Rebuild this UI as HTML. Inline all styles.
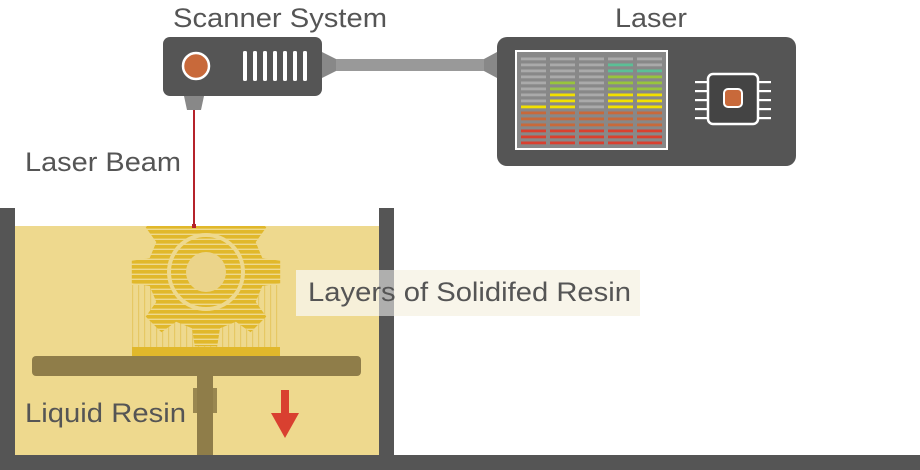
<!DOCTYPE html>
<html><head><meta charset="utf-8"><style>
html,body{margin:0;padding:0;background:#fff;width:920px;height:470px;overflow:hidden}
svg{display:block}
text{font-family:"Liberation Sans",sans-serif;fill:#555;font-size:27px}
</style></head><body>
<svg id="s" width="920" height="470" viewBox="0 0 920 470" xmlns="http://www.w3.org/2000/svg">
<defs>
<pattern id="st" width="10" height="5" patternUnits="userSpaceOnUse">
<rect width="10" height="5" fill="#eed98e"/><rect width="10" height="3.6" fill="#e1b82b"/>
</pattern>
<pattern id="vs" width="6" height="10" patternUnits="userSpaceOnUse">
<rect width="6" height="10" fill="#eed98e"/><rect width="1.2" height="10" fill="#e4c45a"/>
</pattern>
<clipPath id="cp"><rect x="0" y="226" width="920" height="300"/></clipPath>
</defs>
<rect x="15" y="226" width="364" height="229" fill="#eed98e"/>
<rect x="0" y="208" width="15" height="262" fill="#555"/>
<rect x="379" y="208" width="15" height="262" fill="#555"/>
<rect x="0" y="455" width="920" height="15" fill="#555"/>
<rect x="132" y="285" width="148" height="62" fill="url(#vs)" opacity="0.8"/>
<g id="gear" clip-path="url(#cp)"></g>
<rect x="132" y="347" width="148" height="9" fill="#e1b82b"/>
<rect x="32" y="356" width="329" height="20" rx="4" fill="#8f7d49"/>
<rect x="197" y="376" width="16" height="79" fill="#8f7d49"/>
<rect x="193" y="388" width="24" height="25" fill="#8f7d49" opacity="0.9"/>
<rect x="281" y="390" width="8" height="24" fill="#d94030"/>
<polygon points="271,413 299,413 285,438" fill="#d94030"/>
<line x1="194" y1="110" x2="194" y2="226" stroke="#b5232b" stroke-width="2"/>
<rect x="192" y="224" width="4" height="4" fill="#b5232b"/>
<polygon points="184,96 204,96 201,110 187,110" fill="#888"/>
<rect x="163" y="37" width="159" height="59" rx="7" fill="#555"/>
<circle cx="196" cy="66" r="13" fill="#c8693a" stroke="#fff" stroke-width="2.5"/>
<g fill="#fff">
<rect x="243" y="51" width="4" height="30" rx="1.5"/><rect x="253" y="51" width="4" height="30" rx="1.5"/>
<rect x="263" y="51" width="4" height="30" rx="1.5"/><rect x="273" y="51" width="4" height="30" rx="1.5"/>
<rect x="283" y="51" width="4" height="30" rx="1.5"/><rect x="293" y="51" width="4" height="30" rx="1.5"/>
<rect x="303" y="51" width="4" height="30" rx="1.5"/>
</g>
<polygon points="322,52 336,59 336,71 322,78" fill="#888"/>
<rect x="336" y="59" width="148" height="12" fill="#999"/>
<polygon points="484,59 497,52 497,78 484,71" fill="#888"/>
<rect x="497" y="37" width="299" height="129" rx="10" fill="#555"/>
<rect x="516" y="51" width="151" height="98" fill="#888" stroke="#fff" stroke-width="2"/>
<g id="bars"></g>
<g id="chip"></g>
<rect x="708" y="74" width="50" height="50" rx="5" fill="#444" stroke="#fff" stroke-width="2.5"/>
<rect x="724" y="89" width="18" height="18" rx="4" fill="#c8693a" stroke="#fff" stroke-width="2"/>
<text x="173" y="27" textLength="214" lengthAdjust="spacingAndGlyphs">Scanner System</text>
<text x="615" y="27" textLength="72" lengthAdjust="spacingAndGlyphs">Laser</text>
<text x="25" y="171" textLength="156" lengthAdjust="spacingAndGlyphs">Laser Beam</text>
<rect x="296" y="270" width="344" height="46" fill="#f7f3e6" opacity="0.85"/>
<rect x="379" y="270" width="15" height="46" fill="#aaa" opacity="0.9"/>
<text x="308" y="301" textLength="323" lengthAdjust="spacingAndGlyphs">Layers of Solidifed Resin</text>
<text x="25" y="422" textLength="161" lengthAdjust="spacingAndGlyphs">Liquid Resin</text>
</svg>
<script>
var NS="http://www.w3.org/2000/svg";
function el(t,a,p){var e=document.createElementNS(NS,t);for(var k in a)e.setAttribute(k,a[k]);document.getElementById(p).appendChild(e);return e;}
var cx=206,cy=272,R=75,r=58,n=8,pts=[];
for(var i=0;i<n;i++){var a=-Math.PI/2+i*2*Math.PI/n,w=Math.PI/n;
[[a-w*0.62,r],[a-w*0.38,R],[a+w*0.38,R],[a+w*0.62,r]].forEach(function(p){pts.push((cx+p[1]*Math.cos(p[0])).toFixed(1)+","+(cy+p[1]*Math.sin(p[0])).toFixed(1));});}
el("polygon",{points:pts.join(" "),fill:"url(#st)"},"gear");
el("circle",{cx:cx,cy:cy,r:37,fill:"none",stroke:"#eed98e","stroke-width":4},"gear");
el("circle",{cx:cx,cy:cy,r:20,fill:"#ebd48a"},"gear");
var G="#aaa",T="#5bbf96",Gr="#98c43c",Y="#f2e000",O="#c8693a",Rd="#d9402f";
var cols=[
[G,G,G,G,G,G,G,G,Y,O,O,O,Rd,Rd,Rd],
[G,G,G,G,Gr,Gr,Y,Y,Y,O,O,O,Rd,Rd,Rd],
[G,G,G,G,G,G,G,G,G,O,O,O,Rd,Rd,Rd],
[G,T,T,Gr,Gr,Gr,Y,Y,Y,O,O,O,Rd,Rd,Rd],
[G,G,T,Gr,Gr,Gr,Y,Y,Y,O,O,O,Rd,Rd,Rd]];
var xs=[521,550,579,608,637];
cols.forEach(function(c,j){c.forEach(function(col,i){el("rect",{x:xs[j],y:(57.5+i*6).toFixed(1),width:25,height:2.8,fill:col},"bars");});});
for(var k=0;k<5;k++){var o=81+k*9;
el("rect",{x:o-1,y:61,width:2.2,height:13,fill:"#fff"},"chip");
el("rect",{x:o-1,y:124,width:2.2,height:13,fill:"#fff"},"chip");
el("rect",{x:695,y:o,width:13,height:2.2,fill:"#fff"},"chip");
el("rect",{x:758,y:o,width:13,height:2.2,fill:"#fff"},"chip");}
</script>
</body></html>
